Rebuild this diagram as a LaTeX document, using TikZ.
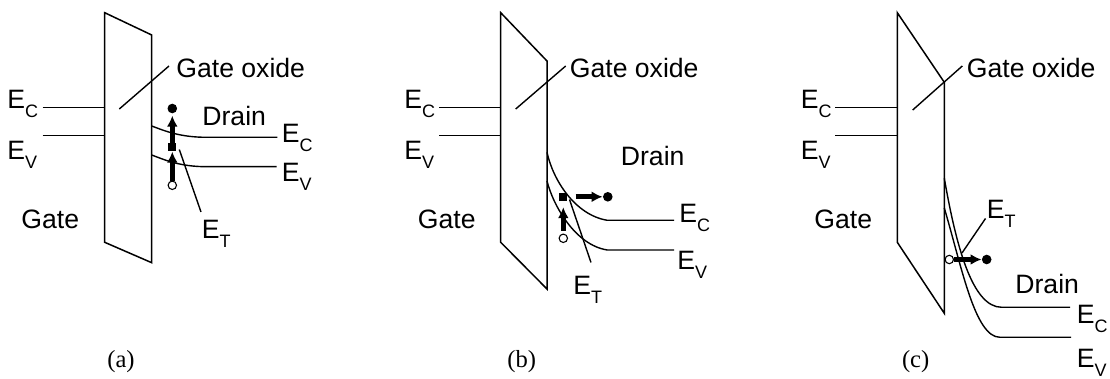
\documentclass[tikz,border=0pt]{standalone}
\usepackage{fontspec}
\setmainfont{Liberation Sans}
\newfontfamily\capfont{Liberation Serif}
\usetikzlibrary{arrows.meta}
\newcommand\lvl[1]{E\raisebox{-4.5pt}{\fontsize{9}{9}\selectfont #1}}
\tikzset{
    oxide/.style={
        line width=0.75pt,
        line join=miter
    },
    band/.style={line width=0.7pt},
    leader/.style={line width=0.7pt},
    lbl/.style={
        font=\fontsize{13.3}{15}\selectfont,
        inner sep=0pt,
        anchor=base west
    },
    subcap/.style={
        font=\capfont\fontsize{12.3}{14}\selectfont,
        inner sep=0pt,
        anchor=base
    },
    elec/.style={circle, fill, inner sep=0pt, minimum size=4.8pt},
    hole/.style={circle, draw, fill=white, line width=0.55pt,
        inner sep=0pt, minimum size=4.2pt},
    trap/.style={rectangle, fill, inner sep=0pt, minimum size=4pt},
    carrier/.style={
        -{Latex[length=5.5pt,width=5.5pt]},
        line width=2.5pt
    }
}
\begin{document}
\begin{tikzpicture}[x=0.5pt,y=-0.5pt]
\useasboundingbox (0,0) rectangle (1110,379);

% (a)
\draw[oxide] (104.7,12.7) -- (151.7,35) -- (151.7,262.7) -- (104.7,242.3) -- cycle;
\draw[band] (42.7,107.5) -- (104.7,107.5);
\draw[band] (42.7,135.7) -- (104.7,135.7);
\draw[band] (151.7,126) .. controls (165,131) and (180,137.3) .. (206.7,137.3) -- (277.3,137.3);
\draw[band] (151.7,155) .. controls (165,160) and (180,166.7) .. (206.7,166.7) -- (276.5,166.7);
\coordinate (oxinA) at (119.3,109);
\coordinate (oxoutA) at (169,66);
\coordinate (etinA) at (179.3,149.5);
\coordinate (etoutA) at (201,212);
\draw[leader] (oxinA) -- (oxoutA);
\draw[leader] (etinA) -- (etoutA);
\node[lbl] (ecgA) at (7,108.3) {\lvl{C}};
\node[lbl] (evgA) at (7,160) {\lvl{V}};
\node[lbl] (gateA) at (21,228.3) {Gate};
\node[lbl] (oxA) at (176,77.3) {Gate oxide};
\node[lbl] (drainA) at (202,126) {Drain};
\node[lbl] (ecdA) at (281.5,142.3) {\lvl{C}};
\node[lbl] (evdA) at (281.5,181.7) {\lvl{V}};
\node[lbl] (etA) at (201.5,238.3) {\lvl{T}};
\node[elec] (elecA) at (172.3,108.5) {};
\node[trap] (trapA) at (172.3,147.3) {};
\node[hole] (holeA) at (172.3,185.3) {};
\draw[carrier, shorten >=1pt] (trapA) -- (elecA);
\draw[carrier] (holeA) -- (trapA);
\node[subcap] (capA) at (121,367.6) {(a)};

% (b)
\draw[oxide] (500.7,12.7) -- (547,61) -- (547,289) -- (500.7,242.3) -- cycle;
\draw[band] (439,107.5) -- (500.7,107.5);
\draw[band] (439,135.7) -- (500.7,135.7);
\draw[band] (547,152.3) .. controls (553,180) and (575,215) .. (607.3,220.3) -- (674,220.3);
\draw[band] (547,181) .. controls (553,205) and (575,245) .. (607.3,250) -- (674,250);
\coordinate (oxinB) at (515.7,109);
\coordinate (oxoutB) at (565.7,66);
\coordinate (etinB) at (569.5,199.5);
\coordinate (etoutB) at (591,262.5);
\draw[leader] (oxinB) -- (oxoutB);
\draw[leader] (etinB) -- (etoutB);
\node[lbl] (ecgB) at (404,108.3) {\lvl{C}};
\node[lbl] (evgB) at (404,160) {\lvl{V}};
\node[lbl] (gateB) at (417.5,228.3) {Gate};
\node[lbl] (oxB) at (569.5,77.3) {Gate oxide};
\node[lbl] (drainB) at (620.5,165.7) {Drain};
\node[lbl] (ecdB) at (679,223) {\lvl{C}};
\node[lbl] (evdB) at (677,269.5) {\lvl{V}};
\node[lbl] (etB) at (573,295) {\lvl{T}};
\node[trap] (trapB) at (563.3,196.8) {};
\node[elec] (elecB) at (607.8,196.8) {};
\node[hole] (holeB) at (563.3,238.3) {};
\draw[carrier, shorten <=4pt] (trapB) -- (elecB);
\draw[carrier, shorten >=3pt, shorten <=1.5pt] (holeB) -- (trapB);
\node[subcap] (capB) at (521.7,367.6) {(b)};

% (c)
\draw[oxide] (897.3,12.7) -- (944.3,82.3) -- (944.3,313.3) -- (897.3,242.3) -- cycle;
\draw[band] (835,107.5) -- (897.3,107.5);
\draw[band] (835,135.7) -- (897.3,135.7);
\draw[band] (944.3,178.3) .. controls (956,245) and (972,307.3) .. (1001.7,307.3) -- (1070,307.3);
\draw[band] (944.3,208) .. controls (962,268) and (975,337.3) .. (1000,337.3) -- (1071,337.3);
\coordinate (oxinC) at (912.7,110);
\coordinate (oxoutC) at (962.3,66);
\coordinate (etinC) at (962,253);
\coordinate (etoutC) at (985.5,218.5);
\draw[leader] (oxinC) -- (oxoutC);
\draw[leader] (etinC) -- (etoutC);
\node[lbl] (ecgC) at (800.5,108.3) {\lvl{C}};
\node[lbl] (evgC) at (800.5,160) {\lvl{V}};
\node[lbl] (gateC) at (814,228.3) {Gate};
\node[lbl] (oxC) at (966.5,77.3) {Gate oxide};
\node[lbl] (drainC) at (1015,293.3) {Drain};
\node[lbl] (ecdC) at (1076.5,323.3) {\lvl{C}};
\node[lbl] (evdC) at (1076.5,368) {\lvl{V}};
\node[lbl] (etC) at (986.5,218.3) {\lvl{T}};
\node[hole] (holeC) at (949.3,259.5) {};
\node[elec] (elecC) at (986.7,259.5) {};
\draw[carrier] (holeC) -- (elecC);
\node[subcap] (capC) at (915.7,367.6) {(c)};

\end{tikzpicture}
\end{document}
